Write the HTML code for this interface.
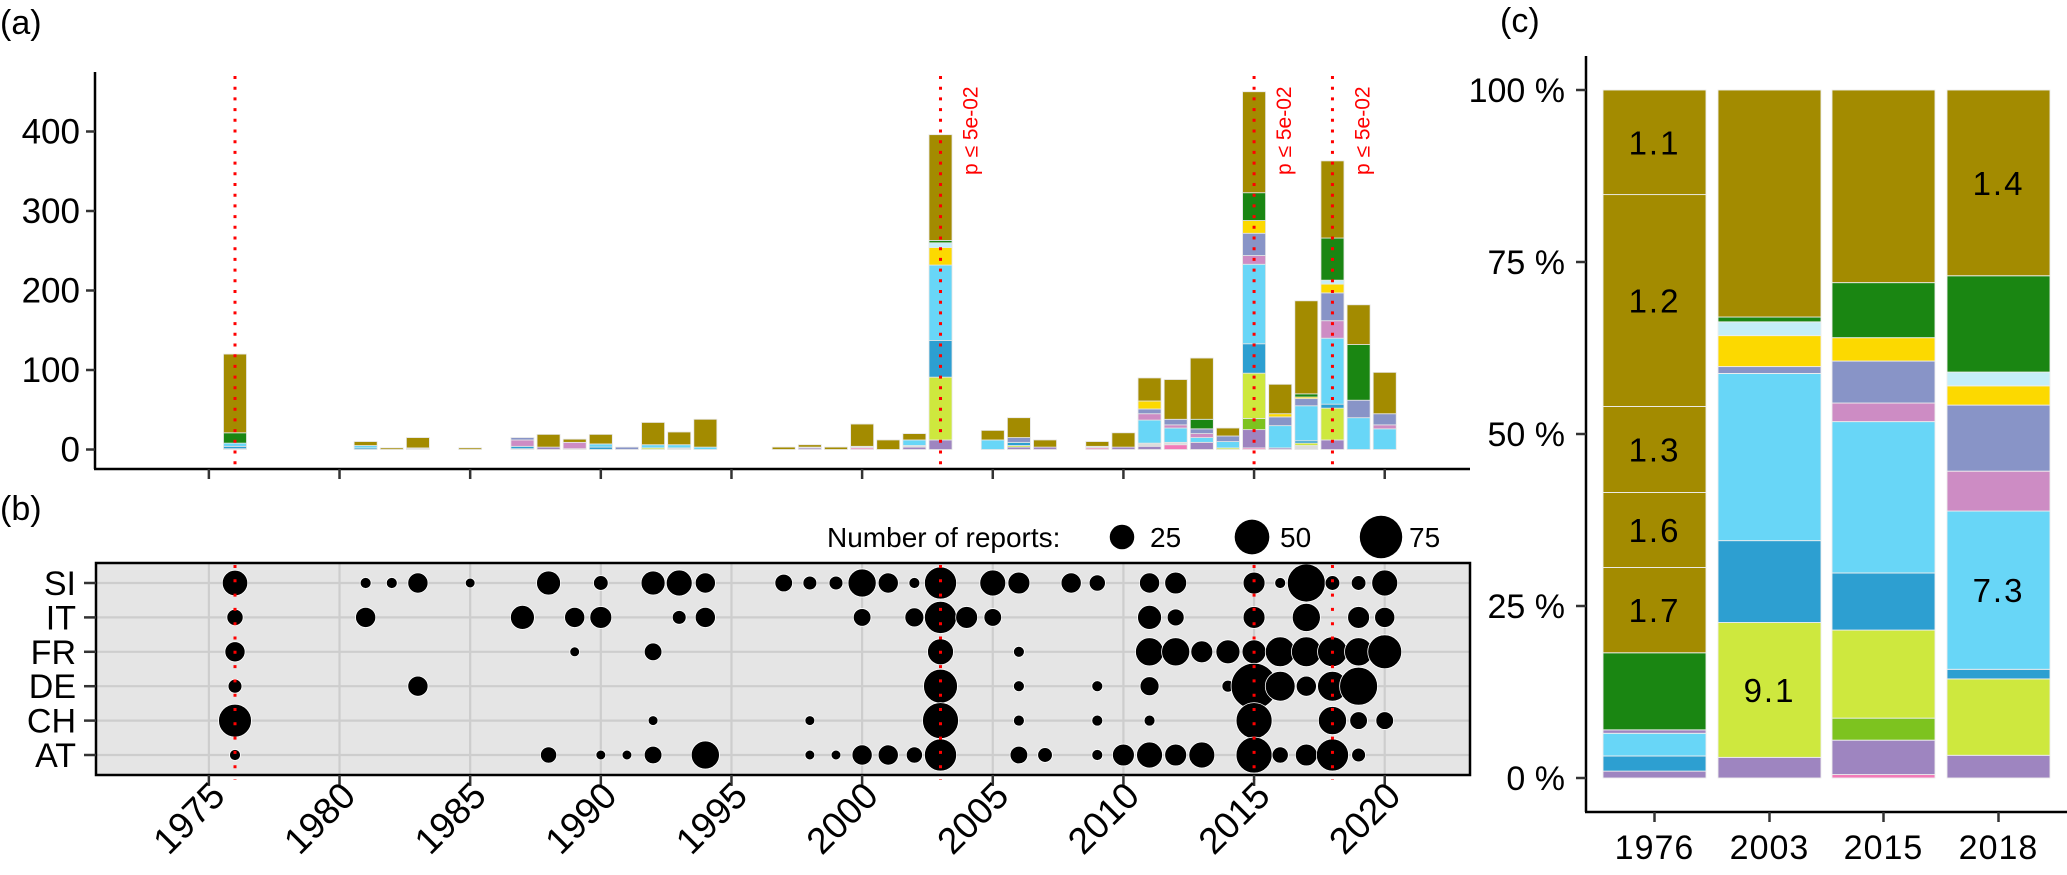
<!DOCTYPE html>
<html><head><meta charset="utf-8"><style>
html,body{margin:0;padding:0;background:#fff;}
svg{display:block;font-family:"Liberation Sans",Arial,sans-serif;}
</style></head><body>
<svg id="chart" width="2067" height="875" viewBox="0 0 2067 875">
<g id="pa"></g>
<g id="pb"></g>
<g id="pc"></g>
</svg>
<script>
// ---------- Panel (a) data ----------
const yearsA=[1976,1981,1982,1983,1985,1987,1988,1989,1990,1991,1992,1993,1994,1997,1998,1999,2000,2001,2002,2003,2005,2006,2007,2009,2010,2011,2012,2013,2014,2015,2016,2017,2018,2019,2020];
const sPinkB=[0,0,0,0,0,0,0,0,0,0,0,0,0,0,0,0,2,0,0,0,0,0,0,2,0,0,6,0,0,2,0,0,0,0,0];
const sPurple=[1,0,0,0,0,0,3,0,0,0,0,0,0,0,2,0,0,0,3,12,0,3,3,0,3,4,0,9,0,23,2,0,12,0,0];
const sGrey=[0,0,0,2,0,1,0,1,0,0,0,2,0,0,1,0,2,0,2,0,0,0,0,2,0,4,3,0,0,0,0,5,0,0,0];
const sYellowGreen=[0,0,0,0,0,0,0,0,0,0,0,0,0,0,0,0,0,0,0,0,0,0,0,0,0,0,0,0,0,14,0,0,0,0,0];
const sLime=[0,0,0,0,0,0,0,0,0,0,2,0,0,0,0,0,0,0,0,79,0,2,0,0,0,0,0,0,2,57,0,3,40,0,0];
const sBlue=[3,2,0,0,0,3,0,0,3,0,0,0,0,0,0,0,0,0,0,46,0,4,0,0,0,0,0,0,0,37,0,3,5,0,0];
const sLightBlue=[4,3,0,0,0,0,0,0,4,0,4,4,3,0,0,0,0,0,7,95,12,0,0,0,0,29,18,6,8,100,28,44,83,40,26];
const sPink=[0,0,0,0,0,8,0,8,0,0,0,0,0,0,0,0,0,0,0,0,0,0,0,0,0,8,4,5,0,11,0,0,22,0,5];
const sSlate=[0,0,0,0,0,3,0,0,0,3,0,0,0,0,0,0,0,0,0,0,0,6,0,0,0,6,7,6,7,28,11,9,35,22,14];
const sYellow=[0,0,0,0,0,0,0,0,0,0,0,0,0,0,0,0,0,0,0,22,0,0,0,0,0,10,0,0,0,16,4,2,11,0,0];
const sLightCyan=[0,0,0,0,0,0,0,0,0,0,0,0,0,0,0,0,0,0,0,6,0,0,0,0,0,0,0,0,0,0,0,0,5,0,0];
const sGreen=[13,0,0,0,0,0,0,0,0,0,0,0,0,0,0,0,0,0,0,3,0,0,0,0,0,0,0,12,0,35,0,4,53,70,0];
const sOlive=[99,5,2,13,2,0,16,4,12,0,28,16,35,3,3,3,28,12,8,133,12,25,9,6,18,29,50,77,10,127,37,117,97,50,52];
const yTicksA=[0,100,200,300,400];
const xTickYears=[1975,1980,1985,1990,1995,2000,2005,2010,2015,2020];
const sigYears=[1976,2003,2015,2018];
const sigLabelYears=[2003,2015,2018];

// ---------- Panel (b) data ----------
const countries=["SI","IT","FR","DE","CH","AT"];
const siYears=[1976,1981,1982,1983,1985,1988,1990,1992,1993,1994,1997,1998,1999,2000,2001,2002,2003,2005,2006,2008,2009,2011,2012,2015,2016,2017,2018,2019,2020];
const siCounts=[27,5,5,17,4,24,9,24,28,17,13,8,8,33,17,5,43,28,20,17,11,17,20,20,5,60,9,9,28];
const itYears=[1976,1981,1987,1989,1990,1993,1994,2000,2002,2003,2004,2005,2011,2012,2015,2017,2019,2020];
const itCounts=[11,17,24,17,20,8,17,13,15,43,20,13,24,12,20,33,20,17];
const frYears=[1976,1989,1992,2003,2006,2011,2012,2013,2014,2015,2016,2017,2018,2019,2020];
const frCounts=[17,4,13,28,5,33,33,20,24,24,37,37,37,33,48];
const deYears=[1976,1983,2003,2006,2009,2011,2014,2015,2016,2017,2018,2019];
const deCounts=[8,17,48,5,5,15,6,88,37,17,37,60];
const chYears=[1976,1992,1998,2003,2006,2009,2011,2015,2018,2019,2020];
const chCounts=[45,4,4,54,5,5,5,54,33,13,13];
const atYears=[1976,1988,1990,1991,1992,1994,1998,1999,2000,2001,2002,2003,2006,2007,2009,2010,2011,2012,2013,2015,2016,2017,2018,2019];
const atCounts=[5,11,4,4,13,33,4,4,17,17,11,43,13,9,5,20,28,20,28,54,11,20,43,8];
const legendCounts=[25,50,75];

// ---------- Panel (c) data ----------
const cYears=["1976","2003","2015","2018"];
const c1976Cats=["purple","blue","lightblue","purple","green","olive","olive","olive","olive","olive"];
const c1976Pct=[1,2.2,3.3,0.5,11.2,12.4,10.9,12.5,30.8,15.2];
const c1976Lab=["","","","","","1.7","1.6","1.3","1.2","1.1"];
const c2003Cats=["purple","lime","blue","lightblue","slate","yellow","lightcyan","green","olive"];
const c2003Pct=[3,19.6,11.9,24.3,1,4.5,2,0.7,33];
const c2003Lab=["","9.1","","","","","","",""];
const c2015Cats=["pinkB","purple","yellowgreen","lime","blue","lightblue","pink","slate","yellow","green","olive"];
const c2015Pct=[0.5,5,3.2,12.8,8.3,22,2.7,6.1,3.4,8,28];
const c2015Lab=["","","","","","","","","","",""];
const c2018Cats=["purple","lime","blue","lightblue","pink","slate","yellow","lightcyan","green","olive"];
const c2018Pct=[3.3,11.1,1.4,23,5.8,9.6,2.8,2,14,27];
const c2018Lab=["","","","7.3","","","","","","1.4"];
const cTicks=[0,25,50,75,100];

const COL={olive:"#a38b00",green:"#1a8612",lightblue:"#68d6f7",blue:"#2d9fd1",lime:"#cee83e",yellowgreen:"#7dc31f",yellow:"#fcd900",slate:"#8894c7",pink:"#cd8cc4",purple:"#9e85c0",lightcyan:"#c4eef8",grey:"#dcdcdc",pinkB:"#f27ab8"};
const NS="http://www.w3.org/2000/svg";
function mk(parent,tag,attrs,text){const e=document.createElementNS(NS,tag);for(const k in attrs)e.setAttribute(k,attrs[k]);if(text!==undefined)e.textContent=text;parent.appendChild(e);return e;}

// scales
const xYear=yr=>235+(yr-1976)*26.13;
const yA=v=>449.5-v*0.795;
const rowY=i=>583+i*34.4;
const rDot=n=>2.45*Math.sqrt(n);
const yC=p=>778-p*6.88;

// ===== Panel A =====
const pa=document.getElementById('pa');
let t=mk(pa,'text',{x:0,y:34,'font-size':34});t.textContent="(a)";


const stackOrder=[["pinkB",sPinkB],["purple",sPurple],["grey",sGrey],["yellowgreen",sYellowGreen],["lime",sLime],["blue",sBlue],["lightblue",sLightBlue],["pink",sPink],["slate",sSlate],["yellow",sYellow],["lightcyan",sLightCyan],["green",sGreen],["olive",sOlive]];
yearsA.forEach((yr,i)=>{
  let acc=0;const g=mk(pa,'g',{});
  
  
  stackOrder.forEach(([c,arr])=>{
    const v=arr[i];if(!v)return;
    const r=mk(g,'rect',{x:xYear(yr)-11.5,y:yA(acc+v),width:23,height:v*0.795,fill:COL[c],stroke:"#e6e6e6",'stroke-width':0.8});
    
    
    acc+=v;
  });
});
let ax=mk(pa,'line',{x1:95,y1:72,x2:95,y2:469,stroke:"#000",'stroke-width':2.5});


ax=mk(pa,'line',{x1:94,y1:469,x2:1470,y2:469,stroke:"#000",'stroke-width':2.5});


yTicksA.forEach(v=>{
  mk(pa,'line',{x1:86,y1:yA(v),x2:95,y2:yA(v),stroke:"#333",'stroke-width':2.5});
  const l=mk(pa,'text',{x:80,y:yA(v)+12,'font-size':35,'text-anchor':'end'},String(v));
  
  
});
xTickYears.forEach(yr=>{mk(pa,'line',{x1:xYear(yr),y1:469,x2:xYear(yr),y2:479,stroke:"#333",'stroke-width':2.5});});
sigYears.forEach(yr=>{
  const l=mk(pa,'line',{x1:xYear(yr),y1:76,x2:xYear(yr),y2:469,stroke:"#ff0000",'stroke-width':3,'stroke-dasharray':'3 7.7'});
  
  
});
sigLabelYears.forEach(yr=>{
  const l=mk(pa,'text',{transform:`translate(${xYear(yr)+37},175) rotate(-90)`,'font-size':21,fill:"#ff0000"},"p ≤ 5e-02");
  
  
});

// ===== Panel B =====
const pb=document.getElementById('pb');
t=mk(pb,'text',{x:0,y:520,'font-size':34},"(b)");


t=mk(pb,'text',{x:827,y:547,'font-size':28},"Number of reports:");


const legX=[1122,1252,1381];
legendCounts.forEach((n,i)=>{
  const c=mk(pb,'circle',{cx:legX[i],cy:537,r:rDot(n),fill:"#000"});
  
  
  mk(pb,'text',{x:legX[i]+28,y:547,'font-size':28},String(n));
});
const bg=mk(pb,'rect',{x:96,y:563,width:1374,height:212,fill:"#e5e5e5"});


xTickYears.forEach(yr=>{mk(pb,'line',{x1:xYear(yr),y1:563,x2:xYear(yr),y2:775,stroke:"#cdcdcd",'stroke-width':2.2});});
countries.forEach((c,i)=>{mk(pb,'line',{x1:96,y1:rowY(i),x2:1470,y2:rowY(i),stroke:"#cdcdcd",'stroke-width':2.2});});
const dotSets=[[siYears,siCounts],[itYears,itCounts],[frYears,frCounts],[deYears,deCounts],[chYears,chCounts],[atYears,atCounts]];
dotSets.forEach(([ys,ns],i)=>{
  ys.forEach((yr,j)=>{
    const c=mk(pb,'circle',{cx:xYear(yr),cy:rowY(i),r:rDot(ns[j]),fill:"#000",stroke:"#fff",'stroke-width':0.8});
    
    
  });
});
sigYears.forEach(yr=>{
  const l=mk(pb,'line',{x1:xYear(yr),y1:565,x2:xYear(yr),y2:780,stroke:"#ff0000",'stroke-width':3,'stroke-dasharray':'3 11.3'});
  
  
});
const frame=mk(pb,'rect',{x:96,y:563,width:1374,height:212,fill:"none",stroke:"#000",'stroke-width':2.5});


countries.forEach((c,i)=>{
  mk(pb,'line',{x1:84,y1:rowY(i),x2:96,y2:rowY(i),stroke:"#333",'stroke-width':2.5});
  const l=mk(pb,'text',{x:76,y:rowY(i)+12,'font-size':34,'text-anchor':'end'},c);
  
  
});
xTickYears.forEach(yr=>{
  mk(pb,'line',{x1:xYear(yr),y1:775,x2:xYear(yr),y2:786,stroke:"#333",'stroke-width':2.5});
  const l=mk(pb,'text',{transform:`translate(${xYear(yr)+18},798) rotate(-45)`,'font-size':37,'text-anchor':'end'},String(yr));
  
  
});

// ===== Panel C =====
const pc=document.getElementById('pc');
t=mk(pc,'text',{x:1500,y:32,'font-size':34},"(c)");


const cBarX=[1603,1718,1832,1947];
const cSets=[[c1976Cats,c1976Pct,c1976Lab],[c2003Cats,c2003Pct,c2003Lab],[c2015Cats,c2015Pct,c2015Lab],[c2018Cats,c2018Pct,c2018Lab]];
cSets.forEach(([cats,pcts,labs],b)=>{
  let acc=0;const g=mk(pc,'g',{});
  
  
  pcts.forEach((p,k)=>{
    const r=mk(g,'rect',{x:cBarX[b],y:yC(acc+p),width:103,height:p*6.88,fill:COL[cats[k]],stroke:"#eeeeee",'stroke-width':0.9});
    
    
    if(labs[k]){
      const l=mk(g,'text',{x:cBarX[b]+51.5,y:yC(acc+p/2)+12,'font-size':33,'text-anchor':'middle','letter-spacing':2},labs[k]);
      
      
    }
    acc+=p;
  });
});
ax=mk(pc,'line',{x1:1586,y1:56,x2:1586,y2:812,stroke:"#000",'stroke-width':2.5});


ax=mk(pc,'line',{x1:1585,y1:812,x2:2067,y2:812,stroke:"#000",'stroke-width':2.5});


cTicks.forEach(p=>{
  mk(pc,'line',{x1:1576,y1:yC(p),x2:1586,y2:yC(p),stroke:"#333",'stroke-width':2.5});
  const l=mk(pc,'text',{x:1565,y:yC(p)+12,'font-size':34,'text-anchor':'end'},p+" %");
  
  
});
cYears.forEach((y,b)=>{
  const cx=cBarX[b]+51.5;
  mk(pc,'line',{x1:cx,y1:812,x2:cx,y2:822,stroke:"#333",'stroke-width':2.5});
  const l=mk(pc,'text',{x:cx,y:859,'font-size':34,'text-anchor':'middle','letter-spacing':1},y);
  
  
});
</script>
</body></html>
